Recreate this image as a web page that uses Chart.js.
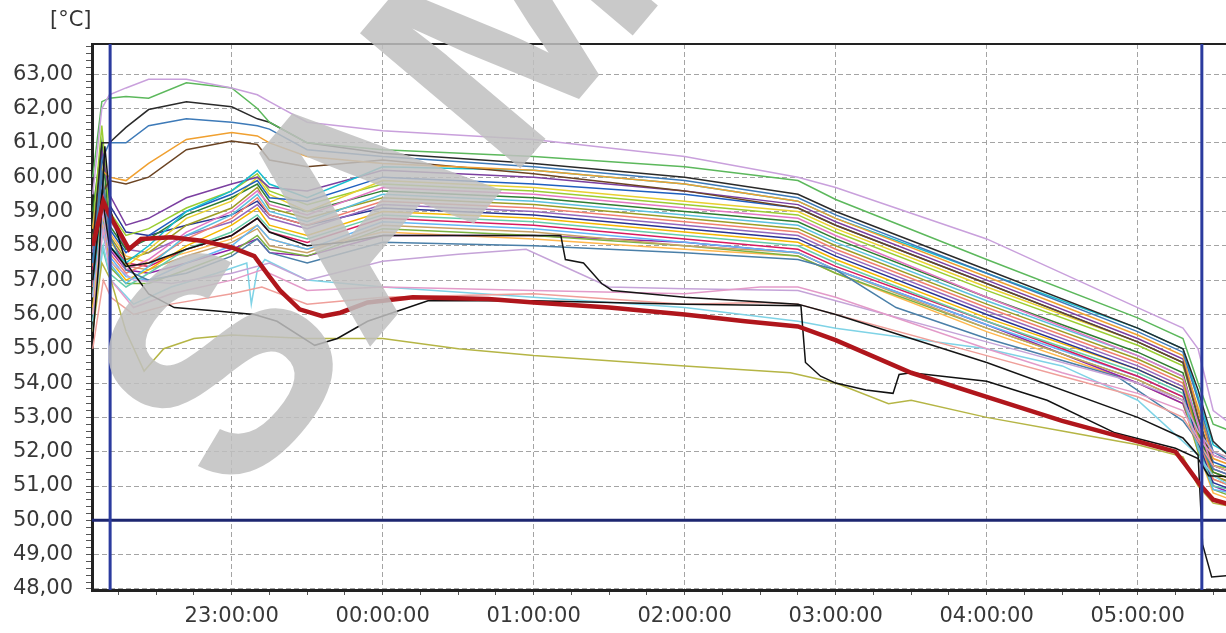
<!DOCTYPE html>
<html>
<head>
<meta charset="utf-8">
<script src="https://cdn.jsdelivr.net/npm/chart.js@4.4.0/dist/chart.umd.min.js"></script>
<style>
  html, body { margin: 0; padding: 0; background: #fff; overflow: hidden; }
  #wrap { width: 1226px; height: 633px; }
</style>
</head>
<body>
<div id="wrap"><canvas id="temps" width="1226" height="633"></canvas></div>
<script>
// axis range (hours since midnight of the first day, 24 = 00:00)
const xMin = 22.075, xMax = 29.585;
const yMin = 47.97, yMax = 63.88;

// cursor lines of the logger software
const cursorTimes = [22.195, 29.425];
const cursorLevel = 50.0;

// shared time keys for the probe cluster
const times = [22.08, 22.14, 22.19, 22.30, 22.45, 22.70, 23.00, 23.17, 23.25, 23.50, 24.00, 25.00, 26.00, 26.75, 27.00, 28.00, 29.00, 29.30, 29.40, 29.50, 29.62];

const T01 = [59.5, 62.0, 62.4, 62.6, 62.85, 62.85, 62.6, 62.4, 62.2, 61.6, 61.35, 61.1, 60.6, 60.0, 59.7, 58.2, 56.2, 55.6, 55.0, 53.2, 52.8];
const T02 = [60.0, 62.2, 62.3, 62.35, 62.3, 62.75, 62.6, 62.0, 61.6, 61.0, 60.8, 60.6, 60.3, 59.9, 59.35, 57.6, 55.9, 55.3, 54.0, 52.8, 52.6];
const T03 = [58.0, 61.0, 61.0, 61.45, 61.97, 62.2, 62.05, 61.7, 61.6, 61.0, 60.7, 60.4, 60.0, 59.5, 59.0, 57.3, 55.6, 55.0, 53.8, 52.3, 51.8];
const T04 = [57.5, 60.5, 61.0, 61.0, 61.5, 61.7, 61.6, 61.5, 61.4, 60.8, 60.6, 60.3, 59.9, 59.4, 58.9, 57.2, 55.5, 54.9, 53.5, 52.0, 51.7];
const T05 = [58.5, 60.2, 60.0, 59.9, 60.4, 61.1, 61.3, 61.2, 61.0, 60.6, 60.4, 60.2, 59.8, 59.3, 58.8, 57.1, 55.4, 54.8, 53.2, 51.8, 51.6];
const T06 = [57.0, 59.5, 59.9, 59.8, 60.0, 60.8, 61.05, 60.95, 60.5, 60.3, 60.5, 60.1, 59.6, 59.1, 58.6, 56.9, 55.2, 54.6, 53.0, 51.6, 51.4];
const T07 = [56.5, 59.5, 58.0, 57.5, 58.0, 59.0, 59.6, 60.2, 59.8, 59.4, 60.3, 60.2, 59.8, 59.3, 58.8, 57.2, 55.6, 55.0, 53.6, 52.2, 51.9];
const T08 = [58.0, 60.8, 59.5, 58.6, 58.8, 59.4, 59.8, 60.0, 59.7, 59.6, 60.2, 60.0, 59.6, 59.2, 58.7, 57.0, 55.3, 54.7, 53.2, 51.9, 51.7];
const T09 = [57.5, 60.0, 58.5, 57.8, 58.3, 59.0, 59.5, 59.9, 59.4, 59.3, 60.0, 59.8, 59.5, 59.1, 58.6, 56.9, 55.2, 54.6, 53.0, 51.7, 51.5];
const T10 = [56.0, 59.0, 58.2, 57.4, 57.9, 58.8, 59.3, 60.0, 59.5, 59.0, 59.9, 59.7, 59.3, 59.0, 58.5, 56.8, 55.2, 54.6, 53.3, 52.0, 51.8];
const T11 = [58.5, 61.5, 59.0, 58.3, 58.5, 59.1, 59.6, 60.1, 59.6, 59.2, 59.8, 59.6, 59.2, 58.9, 58.4, 56.7, 55.1, 54.5, 53.0, 51.6, 51.5];
const T12 = [57.0, 59.8, 58.0, 57.3, 57.6, 58.4, 59.0, 59.6, 59.2, 58.9, 59.7, 59.5, 59.1, 58.8, 58.3, 56.5, 54.8, 54.2, 52.8, 51.5, 51.3];
const T13 = [59.0, 61.0, 58.6, 57.9, 58.2, 58.9, 59.4, 59.8, 59.3, 59.0, 59.6, 59.4, 59.0, 58.7, 58.2, 56.5, 54.9, 54.3, 52.6, 51.4, 51.2];
const T14 = [55.5, 58.5, 57.5, 56.9, 57.4, 58.3, 58.9, 59.5, 59.0, 58.7, 59.5, 59.3, 58.9, 58.6, 58.1, 56.4, 54.8, 54.2, 52.9, 51.6, 51.4];
const T15 = [58.2, 60.3, 58.3, 57.6, 57.8, 58.6, 59.1, 59.7, 59.1, 58.8, 59.4, 59.2, 58.8, 58.5, 58.0, 56.3, 54.7, 54.1, 52.5, 51.3, 51.1];
const T16 = [56.8, 59.2, 57.8, 57.2, 57.5, 58.2, 58.8, 59.4, 58.9, 58.6, 59.3, 59.1, 58.7, 58.4, 57.9, 56.2, 54.6, 54.0, 52.4, 51.2, 51.0];
const T17 = [57.8, 60.0, 58.8, 57.9, 57.8, 58.3, 58.7, 59.2, 58.8, 58.5, 59.2, 59.0, 58.6, 58.3, 57.8, 56.1, 54.5, 53.9, 52.7, 51.5, 51.3];
const T18 = [58.6, 60.6, 59.2, 58.4, 58.3, 58.6, 58.9, 59.3, 58.9, 58.6, 59.1, 58.9, 58.5, 58.2, 57.7, 56.0, 54.4, 53.8, 52.3, 51.1, 50.9];
const T19 = [56.2, 58.6, 57.6, 57.0, 57.3, 58.0, 58.6, 59.1, 58.6, 58.3, 59.0, 58.8, 58.4, 58.1, 57.6, 55.9, 54.4, 53.8, 52.6, 51.4, 51.2];
const T20 = [55.8, 58.0, 57.2, 56.8, 57.2, 57.9, 58.4, 58.9, 58.5, 58.2, 58.9, 58.7, 58.3, 58.0, 57.5, 55.8, 54.3, 53.7, 52.2, 51.0, 50.9];
const T21 = [57.3, 59.6, 58.2, 57.5, 57.4, 57.9, 58.3, 58.8, 58.4, 58.1, 58.8, 58.6, 58.2, 57.9, 57.4, 55.8, 54.2, 53.6, 52.5, 51.3, 51.1];
const T22 = [56.0, 58.8, 57.7, 57.1, 57.0, 57.5, 58.0, 58.6, 58.2, 57.9, 58.7, 58.5, 58.1, 57.8, 57.3, 55.7, 54.2, 53.6, 52.1, 50.9, 50.8];
const T23 = [57.9, 60.1, 58.0, 57.4, 57.3, 57.7, 58.1, 58.5, 58.0, 57.8, 58.6, 58.4, 58.0, 57.8, 57.3, 55.6, 54.1, 53.5, 52.3, 51.2, 51.0];
const T24 = [56.6, 59.0, 57.4, 56.9, 56.9, 57.3, 57.8, 58.3, 57.9, 57.7, 58.5, 58.3, 58.0, 57.7, 57.2, 55.6, 54.1, 53.5, 52.0, 50.9, 50.7];
const T25 = [56.9, 59.3, 57.9, 57.3, 57.2, 57.5, 57.9, 58.2, 57.8, 57.7, 58.3, 58.3, 58.1, 57.8, 57.3, 55.7, 54.0, 53.4, 52.2, 51.0, 50.8];
const T26 = [57.4, 59.9, 58.4, 57.7, 57.5, 57.8, 58.2, 58.6, 58.2, 57.9, 58.4, 58.2, 57.9, 57.7, 57.2, 55.5, 54.0, 53.4, 52.0, 50.8, 50.6];

const clusterData = [T01, T02, T03, T04, T05, T06, T07, T08, T09, T10, T11, T12, T13,
                     T14, T15, T16, T17, T18, T19, T20, T21, T22, T23, T24, T25, T26];
const clusterColors = ['#c9a0dc', '#5cb85c', '#2a2a2a', '#3d7ab8', '#f0a030', '#6b4423', '#17becf',
                       '#7b3fa0', '#1f5fbf', '#e8d030', '#9acd32', '#e377c2', '#2e7d32', '#5bc0de',
                       '#9e9d24', '#f08070', '#9467bd', '#283593', '#f5b800', '#66cdaa', '#d81b60',
                       '#64b5f6', '#c8a165', '#7cb342', '#8e24aa', '#ffb74d'];

// reference probe (thick red)
const redTimes = [22.08, 22.15, 22.19, 22.27, 22.32, 22.40, 22.60, 22.80, 23.00, 23.15, 23.25, 23.32, 23.45, 23.60, 23.72, 23.90, 24.20, 24.70, 25.00, 25.50, 26.00, 26.40, 26.75, 27.00, 27.50, 28.00, 28.50, 29.00, 29.25, 29.32, 29.42, 29.50, 29.62];
const redValues = [58.0, 59.3, 58.9, 58.3, 57.9, 58.2, 58.25, 58.15, 57.95, 57.7, 57.1, 56.7, 56.15, 55.95, 56.05, 56.35, 56.5, 56.45, 56.35, 56.2, 56.0, 55.8, 55.65, 55.25, 54.3, 53.6, 52.9, 52.3, 52.0, 51.6, 51.0, 50.6, 50.45];

// black probes
const blackATimes = [22.08, 22.12, 22.16, 22.20, 22.30, 22.45, 22.62, 22.90, 23.15, 23.30, 23.55, 23.70, 23.90, 24.30, 25.00, 26.00, 26.77, 26.80, 26.90, 27.00, 27.20, 27.38, 27.42, 27.50, 28.00, 28.40, 28.85, 29.25, 29.40, 29.47, 29.62];
const blackAValues = [55.3, 57.5, 60.9, 59.0, 57.5, 56.6, 56.2, 56.1, 56.0, 55.8, 55.1, 55.3, 55.8, 56.4, 56.4, 56.3, 56.25, 54.6, 54.2, 54.0, 53.8, 53.7, 54.25, 54.3, 54.05, 53.5, 52.55, 52.1, 51.8, 51.3, 51.27];
const blackBTimes = [22.08, 22.14, 22.19, 22.30, 22.45, 22.70, 23.00, 23.17, 23.25, 23.50, 23.75, 24.00, 25.00, 25.18, 25.21, 25.33, 25.45, 25.52, 26.00, 26.75, 27.00, 28.00, 29.00, 29.30, 29.40, 29.43, 29.49, 29.62];
const blackBValues = [57.0, 59.5, 58.0, 57.4, 57.5, 57.9, 58.3, 58.8, 58.4, 58.0, 58.1, 58.3, 58.3, 58.3, 57.6, 57.5, 56.9, 56.7, 56.5, 56.3, 56.0, 54.6, 53.0, 52.4, 51.9, 49.3, 48.35, 48.4];

// olive probe (lowest line)
const oliveTimes = [22.08, 22.14, 22.20, 22.30, 22.42, 22.55, 22.75, 23.00, 23.50, 24.00, 24.50, 25.00, 26.00, 26.70, 27.00, 27.35, 27.50, 28.00, 28.50, 29.00, 29.30, 29.40, 29.50, 29.62];
const oliveValues = [55.5, 57.5, 57.0, 55.5, 54.35, 55.0, 55.3, 55.4, 55.3, 55.3, 55.0, 54.8, 54.5, 54.3, 54.0, 53.4, 53.5, 53.0, 52.6, 52.2, 51.85, 51.0, 50.5, 50.4];

// pink / salmon probes below the cluster
const lowTimes = [22.08, 22.15, 22.20, 22.35, 22.60, 23.00, 23.20, 23.50, 24.00, 25.00, 26.00, 26.50, 26.75, 27.00, 28.00, 28.50, 29.00, 29.30, 29.40, 29.50, 29.62];
const pinkValues = [56.0, 58.5, 57.0, 56.2, 56.6, 57.0, 57.3, 56.7, 56.8, 56.7, 56.6, 56.8, 56.8, 56.5, 55.0, 54.3, 53.7, 53.2, 52.4, 51.9, 51.7];
const salmonValues = [55.0, 57.0, 56.5, 56.0, 56.3, 56.6, 56.8, 56.3, 56.5, 56.6, 56.3, 56.35, 56.3, 56.0, 54.8, 54.2, 53.6, 53.0, 52.3, 51.6, 51.4];

const lilacTimes = [22.08, 22.15, 22.20, 22.35, 22.60, 23.00, 23.25, 23.50, 24.00, 24.50, 24.95, 25.30, 25.50, 26.00, 26.75, 27.00, 28.00, 29.00, 29.30, 29.40, 29.50, 29.62];
const lilacValues = [56.5, 59.0, 57.5, 57.0, 56.9, 57.2, 57.5, 57.0, 57.55, 57.75, 57.9, 57.2, 56.8, 56.75, 56.7, 56.4, 55.2, 54.0, 53.5, 52.6, 52.0, 51.8];

const steelTimes = [22.08, 22.14, 22.19, 22.30, 22.45, 22.70, 23.00, 23.17, 23.25, 23.50, 24.00, 25.00, 26.00, 26.75, 27.00, 27.40, 28.00, 28.86, 29.30, 29.40, 29.50, 29.62];
const steelValues = [57.0, 60.2, 58.3, 57.3, 57.0, 57.2, 57.7, 58.2, 57.8, 57.5, 58.1, 58.0, 57.8, 57.6, 57.3, 56.2, 55.3, 54.2, 52.9, 52.3, 51.5, 51.3];

const cyanTimes = [22.08, 22.15, 22.20, 22.35, 22.60, 22.90, 23.10, 23.13, 23.17, 23.22, 23.50, 24.00, 25.00, 26.00, 26.75, 27.00, 28.00, 28.50, 29.00, 29.30, 29.40, 29.50, 29.62];
const cyanValues = [55.8, 58.0, 57.0, 56.3, 56.8, 57.2, 57.5, 56.3, 57.3, 57.6, 57.0, 56.8, 56.5, 56.2, 55.8, 55.6, 55.0, 54.5, 53.5, 52.3, 51.9, 51.3, 51.0];

function pts(ts, vs) {
    return ts.map((t, i) => ({ x: t, y: vs[i] }));
}
function isWhole(v) {
    return Math.abs(v - Math.round(v)) < 1e-6;
}

var datasets = [];
// cursors on top
datasets.push({ data: [{ x: cursorTimes[0], y: yMin }, { x: cursorTimes[0], y: yMax }], borderColor: '#2b3b9e', borderWidth: 3 });
datasets.push({ data: [{ x: cursorTimes[1], y: yMin }, { x: cursorTimes[1], y: yMax }], borderColor: '#2b3b9e', borderWidth: 3 });
datasets.push({ data: [{ x: xMin, y: cursorLevel }, { x: xMax, y: cursorLevel }], borderColor: '#1d2670', borderWidth: 3 });

datasets.push({ data: pts(redTimes, redValues), borderColor: '#b0161c', borderWidth: 4.5 });
datasets.push({ data: pts(blackATimes, blackAValues), borderColor: '#111111' });
datasets.push({ data: pts(blackBTimes, blackBValues), borderColor: '#151515' });
datasets.push({ data: pts(oliveTimes, oliveValues), borderColor: '#b5b545' });
datasets.push({ data: pts(lowTimes, pinkValues), borderColor: '#e39bc9' });
datasets.push({ data: pts(lowTimes, salmonValues), borderColor: '#ef9f9a' });
datasets.push({ data: pts(lilacTimes, lilacValues), borderColor: '#c5a3d8' });
datasets.push({ data: pts(steelTimes, steelValues), borderColor: '#4a7fa8' });
datasets.push({ data: pts(cyanTimes, cyanValues), borderColor: '#7fd3e6' });

clusterData.forEach((vals, i) => {
    datasets.push({ data: pts(times, vals), borderColor: clusterColors[i] });
});

// unit label + SAMPLE stamp
const overlay = {
    id: 'overlay',
    afterDraw(chart) {
        const ctx = chart.ctx;
        ctx.save();
        ctx.fillStyle = '#333';
        ctx.font = '21px "DejaVu Sans"';
        ctx.textBaseline = 'alphabetic';
        ctx.fillText('[°C]', 50, 26);

        ctx.translate(234, 508);
        ctx.rotate(-0.87);
        ctx.font = 'bold 305px "Liberation Sans"';
        ctx.fillStyle = 'rgba(192, 192, 192, 0.85)';
        ctx.fillText('SAMPLE', 0, 0);
        ctx.restore();
    }
};

Chart.defaults.font.family = '"DejaVu Sans", Verdana, sans-serif';
Chart.defaults.font.size = 21;
Chart.defaults.color = '#383838';

var myChart = new Chart(document.getElementById('temps'), {
    type: 'line',
    data: { datasets: datasets },
    plugins: [overlay],
    options: {
        responsive: false,
        animation: false,
        devicePixelRatio: 1,
        layout: { padding: { top: 44, left: 0, right: 0, bottom: 0 } },
        elements: {
            point: { radius: 0 },
            line: { tension: 0, borderWidth: 1.5, fill: false }
        },
        plugins: {
            legend: { display: false },
            tooltip: { enabled: false }
        },
        scales: {
            x: {
                type: 'linear',
                position: 'bottom',
                min: xMin,
                max: xMax,
                ticks: {
                    stepSize: 0.25,
                    autoSkip: false,
                    includeBounds: false,
                    maxRotation: 0,
                    minRotation: 0,
                    padding: 9,
                    callback: (v) => {
                        if (!isWhole(v)) return '';
                        const h = Math.round(v) % 24;
                        return (h < 10 ? '0' + h : '' + h) + ':00:00';
                    }
                },
                grid: {
                    color: (c) => isWhole(c.tick.value) ? '#a4a4a4' : 'rgba(0,0,0,0)',
                    tickColor: '#555',
                    tickLength: 5
                },
                border: { color: '#222', width: 3, dash: [5, 3] },
                afterFit: (s) => { s.height = 43; }
            },
            xTop: {
                type: 'linear',
                position: 'top',
                min: xMin,
                max: xMax,
                ticks: { display: false },
                grid: { display: false, drawTicks: false },
                border: { color: '#222', width: 2 },
                afterFit: (s) => { s.height = 0; }
            },
            y: {
                min: yMin,
                max: yMax,
                ticks: {
                    stepSize: 0.2,
                    autoSkip: false,
                    includeBounds: false,
                    padding: 13,
                    callback: (v) => isWhole(v) ? Math.round(v).toFixed(2).replace('.', ',') : ''
                },
                grid: {
                    color: (c) => isWhole(c.tick.value) ? '#a4a4a4' : 'rgba(0,0,0,0)',
                    tickColor: '#555',
                    tickLength: 6
                },
                border: { color: '#222', width: 3, dash: [5, 3] },
                afterFit: (s) => { s.width = 92; }
            }
        }
    }
});
</script>
</body>
</html>
